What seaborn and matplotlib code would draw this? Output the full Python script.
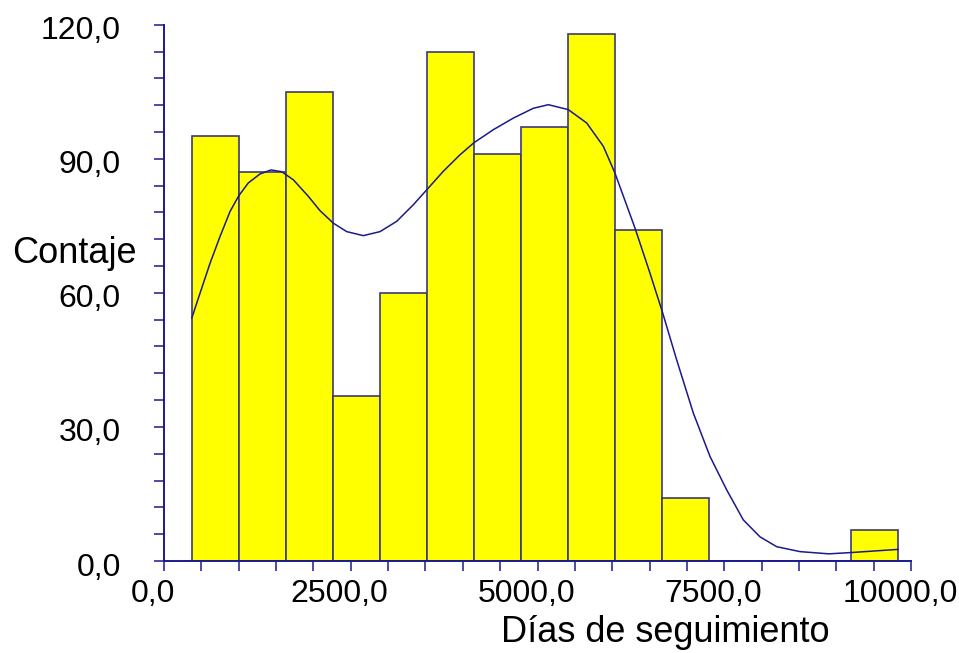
import numpy as np
import pandas as pd
import matplotlib
matplotlib.use("Agg")
import matplotlib.pyplot as plt
import matplotlib.transforms as mtransforms
from matplotlib.ticker import MultipleLocator, FixedLocator
import seaborn as sns

# ---- data ----
bin_edges = [371, 1001, 1631, 2261, 2891, 3521, 4151, 4781, 5411, 6041,
             6671, 7301, 7931, 8561, 9191, 9821]
bin_counts = [95, 87, 105, 37, 60, 114, 91, 97, 118, 74, 14, 0, 0, 0, 7]

curve_x = [371, 482, 616, 750, 884, 1000, 1129, 1285, 1432, 1576, 1731,
           1932, 2088, 2266, 2446, 2668, 2892, 3115, 3337, 3525, 3739,
           3963, 4150, 4408, 4676, 4944, 5145, 5412, 5659, 5881, 6037,
           6305, 6506, 6676, 6863, 7086, 7309, 7533, 7755, 7979, 8202,
           8514, 8900, 9206, 9830]
curve_y = [54.3, 59.9, 66.6, 72.6, 78.2, 81.7, 84.6, 86.6, 87.5, 87.1, 85.3,
           81.6, 78.4, 75.6, 73.7, 72.8, 73.7, 76.0, 79.7, 83.2, 87.2,
           90.9, 93.6, 96.5, 99.1, 101.3, 102.1, 101.0, 98.0, 92.8, 86.8,
           74.5, 64.4, 55.5, 45.0, 33.1, 23.4, 15.9, 9.2, 5.4, 3.2,
           2.1, 1.6, 1.9, 2.6]

x_ticks = [0, 2500, 5000, 7500, 10000]
x_ticklabels = ["0,0", "2500,0", "5000,0", "7500,0", "10000,0"]
y_ticks = [0, 30, 60, 90, 120]
y_ticklabels = ["0,0", "30,0", "60,0", "90,0", "120,0"]
x_label = "Días de seguimiento"
y_label = "Contaje"

# ---- styling ----
sns.set_style("white")
plt.rcParams["font.family"] = ["Liberation Sans", "DejaVu Sans"]

NAVY = "#1a1a8c"

fig = plt.figure(figsize=(9.59, 6.53), dpi=100)
ax = fig.add_axes([164 / 959, 1 - 561 / 653, (911 - 164) / 959, (561 - 24.7) / 653])

edges = np.array(bin_edges, dtype=float)
centers = (edges[:-1] + edges[1:]) / 2
df = pd.DataFrame({"x": centers, "w": bin_counts})

sns.histplot(data=df, x="x", weights="w", bins=bin_edges, ax=ax,
             color="#ffff00", edgecolor="#3a3a7a", linewidth=1.2, alpha=1.0)

curve = pd.DataFrame({"x": curve_x, "y": curve_y})
sns.lineplot(data=curve, x="x", y="y", ax=ax, color=NAVY, linewidth=1.1,
             sort=False, estimator=None)

ax.set_xlim(0, 10000)
ax.set_ylim(0, 120)

ax.xaxis.set_major_locator(FixedLocator(x_ticks))
ax.set_xticklabels(x_ticklabels)
ax.xaxis.set_minor_locator(MultipleLocator(500))
ax.yaxis.set_major_locator(FixedLocator(y_ticks))
ax.set_yticklabels(y_ticklabels)
ax.yaxis.set_minor_locator(MultipleLocator(6))

for side in ["top", "right"]:
    ax.spines[side].set_visible(False)
for side in ["left", "bottom"]:
    ax.spines[side].set_color(NAVY)
    ax.spines[side].set_linewidth(1.4)

ax.tick_params(axis="both", which="both", direction="out", length=7,
               width=1.1, color=NAVY, labelsize=23, labelcolor="black")
ax.tick_params(axis="x", which="both", pad=6)
ax.tick_params(axis="y", which="both", pad=24)
ax.tick_params(which="both", bottom=True, left=True)

offset = mtransforms.ScaledTranslation(-11 / 100, 0, fig.dpi_scale_trans)
for lab in ax.get_xticklabels():
    lab.set_transform(lab.get_transform() + offset)
yoff = mtransforms.ScaledTranslation(0, -3 / 100, fig.dpi_scale_trans)
for lab in ax.get_yticklabels():
    lab.set_transform(lab.get_transform() + yoff)

ax.set_xlabel("")
ax.set_ylabel("")
ax.grid(False)

fig.text(665 / 959, 1 - 632 / 653, x_label, ha="center", va="center",
         fontsize=26, color="black")
fig.text(74 / 959, 1 - 253 / 653, y_label, ha="center", va="center",
         fontsize=26, color="black")

fig.savefig("out.png", dpi=100, facecolor="white")
